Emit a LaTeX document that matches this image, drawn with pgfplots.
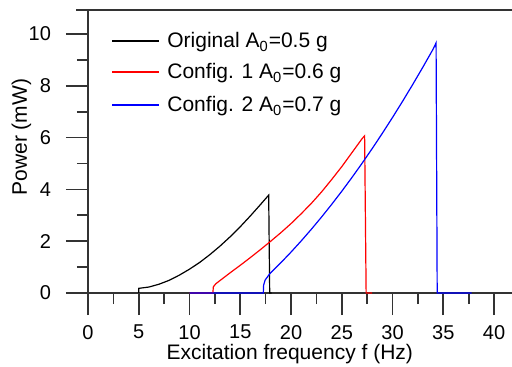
\documentclass[border=0pt]{standalone}
\usepackage{fontspec}
\setmainfont{Liberation Sans}
\usepackage{pgfplots}
\pgfplotsset{compat=1.18}
\begin{document}
\begin{tikzpicture}
\begin{axis}[
  name=ax,
  scale only axis,
  width=212pt, height=141.5pt,
  xmin=0, xmax=41.77, ymin=0, ymax=10.93,
  clip=false,
  axis x line*=box, axis y line*=left,
  axis line style={-, line width=0.85pt, black!80},
  xtick pos=lower, ytick pos=left,
  xtick={0,5,...,40}, ytick={0,2,...,10},
  minor x tick num=1, minor y tick num=1,
  tick align=outside,
  major tick length=11pt, minor tick length=5.5pt,
  tick style={line width=0.85pt, black!80},
  /pgf/number format/assume math mode=true,
  ticklabel style={font=\fontsize{10}{12}\selectfont},
  xticklabel style={yshift=-1.5pt},
  yticklabel style={xshift=-4pt},
  label style={font=\fontsize{10.5}{12}\selectfont},
  xlabel={Excitation frequency f (Hz)},
  ylabel={Power (mW)},
  xlabel style={at={(axis description cs:0.476,0)}, anchor=base, yshift=-33pt},
  ylabel style={at={(axis description cs:0,0.551)}, anchor=base, yshift=30.5pt},
]
\addplot[draw=black, line width=0.6pt] coordinates {
(5,0) (5,0.18) (6,0.23) (7,0.34) (8,0.49) (9,0.69) (10,0.92) (11,1.18) (12,1.48)
(13,1.81) (14,2.17) (15,2.56) (16,2.98) (17,3.42) (17.8,3.78) (17.9,0) (18.1,0)
};
\addplot[draw=red, line width=0.6pt] coordinates {
(10,0) (12.3,0) (12.35,0.24) (12.6,0.36) (13,0.48) (14,0.78) (15,1.07) (16,1.37)
(17,1.68) (18,2.00) (19,2.33) (20,2.68) (21,3.06) (22,3.46) (23,3.90) (24,4.38)
(25,4.88) (26,5.42) (27,5.96) (27.25,6.07) (27.4,0) (28.0,0)
};
\addplot[draw=blue, line width=0.6pt] coordinates {
(10,0) (17.27,0) (17.3,0.30) (17.45,0.50) (17.9,0.74) (19,1.17) (20,1.58) (21,2.01)
(22,2.46) (23,2.93) (24,3.42) (25,3.93) (26,4.46) (27,5.01) (28,5.58) (29,6.17)
(30,6.78) (31,7.41) (32,8.06) (33,8.73) (34,9.42) (34.29,9.66) (34.4,0) (37.8,0)
};
\end{axis}
\draw[line width=0.85pt, black!80] ([xshift=-6pt]ax.north west) -- (ax.north west);
% legend
\draw[black, line width=0.6pt] ([xshift=12pt,yshift=-15.5pt]ax.north west) -- ++(23.5pt,0);
\draw[red, line width=0.6pt] ([xshift=12pt,yshift=-31pt]ax.north west) -- ++(23.5pt,0);
\draw[blue, line width=0.6pt] ([xshift=12pt,yshift=-47.5pt]ax.north west) -- ++(23.5pt,0);
\node[anchor=base west, inner sep=0pt, font=\fontsize{10.5}{12}\selectfont]
  at ([xshift=39.5pt,yshift=-19pt]ax.north west) {Original A\textsubscript{0}=0.5 g};
\node[anchor=base west, inner sep=0pt, font=\fontsize{10.5}{12}\selectfont]
  at ([xshift=39.5pt,yshift=-34.5pt]ax.north west) {Config. 1 A\textsubscript{0}=0.6 g};
\node[anchor=base west, inner sep=0pt, font=\fontsize{10.5}{12}\selectfont]
  at ([xshift=39.5pt,yshift=-51pt]ax.north west) {Config. 2 A\textsubscript{0}=0.7 g};
\pgfresetboundingbox
\path[use as bounding box] (-44pt,-37pt) rectangle (212pt,146.5pt);
\end{tikzpicture}
\end{document}
